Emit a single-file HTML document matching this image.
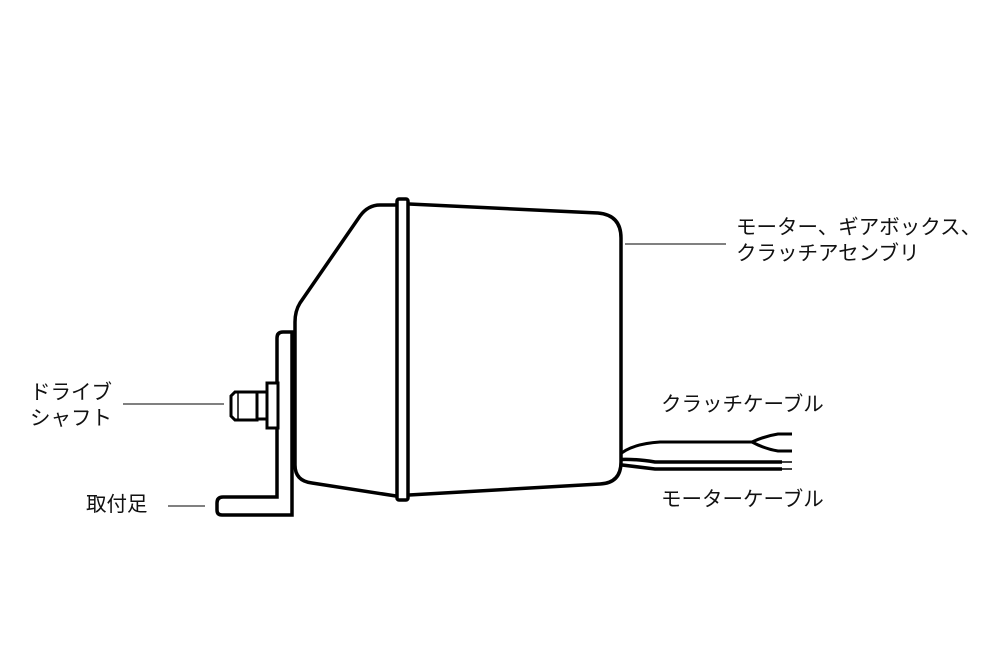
<!DOCTYPE html>
<html><head><meta charset="utf-8"><style>
body{margin:0;background:#fff;}
.t{position:absolute;font-family:"Liberation Sans","Noto Sans CJK JP",sans-serif;font-size:20.5px;color:#111;line-height:26px;white-space:nowrap}
</style></head><body>
<div style="position:relative;width:1000px;height:667px;overflow:hidden">
<svg width="1000" height="667" style="position:absolute;left:0;top:0" fill="none" stroke="#000">
<g stroke-width="1">
<line x1="625" y1="244" x2="726" y2="244"/>
<line x1="123" y1="404" x2="224" y2="404"/>
<line x1="168" y1="506" x2="205" y2="506"/>
</g>
<path d="M277 497 L277 338 Q277 332 283 332 L292 332 L292 515 L222 515 Q217 515 217 510 L217 503 Q217 497 223 497 Z" stroke-width="3.5" fill="#fff"/>
<line x1="292" y1="340" x2="292" y2="462" stroke-width="3" stroke-dasharray="8,3"/>
<rect x="267" y="383" width="11" height="45" stroke-width="3" fill="#fff"/>
<rect x="257" y="392" width="10" height="27" stroke-width="3" fill="#fff"/>
<path d="M257 392 L235 392 L231 396 L231 416 L235 420 L257 420 Z" stroke-width="3" fill="#fff"/>
<line x1="238" y1="393" x2="238" y2="419" stroke-width="1.5"/>
<path d="M618 456 Q630 444 660 442 L752 442 Q765 436 778 434 L792 434 M752 442 Q765 449 778 451 L792 451" stroke-width="3"/>
<path d="M614 460 Q630 458 655 462 L782 462 M614 464 Q630 466 655 469 L782 469" stroke-width="3.5"/>
<path d="M782 462 L792 462 M782 469 L792 469" stroke-width="1.5"/>
<path d="M618 440 Q618 462 604 470" stroke-width="3"/>
<path d="M396 205 L380 205 Q368 205 360 216 L300 303 Q295 311 295 322 L295 465 Q295 481 312 483 L396 496" stroke-width="3.5" fill="#fff"/>
<path d="M409 204 L598 213 Q621 215 621 238 L621 462 Q621 483 600 484 L409 495" stroke-width="3.5" fill="#fff"/>
<rect x="397" y="199" width="11" height="301" rx="2" stroke-width="3.5" fill="#fff"/>
</svg>
<div class="t" style="left:736px;top:215px">モーター、ギアボックス、<br>クラッチアセンブリ</div>
<div class="t" style="left:30px;top:380px">ドライブ<br>シャフト</div>
<div class="t" style="left:86px;top:492px">取付足</div>
<div class="t" style="left:661px;top:392px">クラッチケーブル</div>
<div class="t" style="left:661px;top:487px">モーターケーブル</div>
</div>
</body></html>
